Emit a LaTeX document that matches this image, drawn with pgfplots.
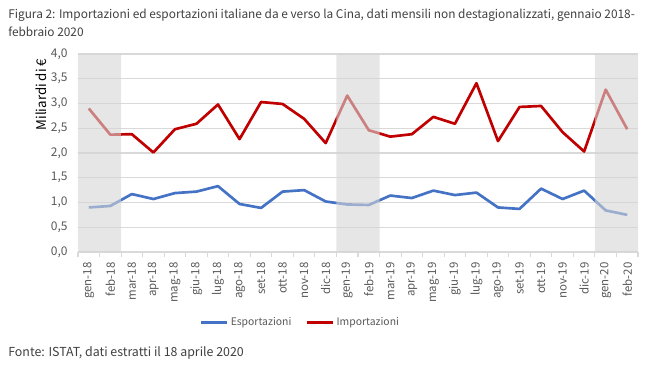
\documentclass[border=0pt]{standalone}
\usepackage{fontspec}
\setmainfont{Noto Sans CJK JP}
\usepackage{pgfplots}
\pgfplotsset{compat=1.18}
\definecolor{expblue}{HTML}{4472C4}
\definecolor{impred}{HTML}{C00000}
\definecolor{txtgrey}{HTML}{595959}
\definecolor{titgrey}{HTML}{404040}
\definecolor{gridgrey}{HTML}{D9D9D9}
\definecolor{bandgrey}{HTML}{D5D5D5}
\begin{document}
\begin{tikzpicture}
\path[use as bounding box] (0,0) rectangle (487.5pt,279.75pt);
\node[anchor=base west, font=\fontsize{8.9}{12}\selectfont, text=titgrey, inner sep=0pt] at (6pt,266pt) {Figura 2: Importazioni ed esportazioni italiane da e verso la Cina, dati mensili non destagionalizzati, gennaio 2018-};
\node[anchor=base west, font=\fontsize{8.9}{12}\selectfont, text=titgrey, inner sep=0pt] at (6pt,252.5pt) {febbraio 2020};
\node[anchor=base west, font=\fontsize{9.3}{12}\selectfont, text=titgrey, inner sep=0pt] at (6pt,12pt) {Fonte: ISTAT, dati estratti il 18 aprile 2020};
\begin{axis}[
  at={(58.5pt,90.75pt)}, anchor=south west,
  scale only axis, width=420pt, height=148.5pt,
  xmin=-0.5, xmax=25.5, ymin=0, ymax=4,
  axis lines*=left,
  y axis line style={draw=none},
  x axis line style={draw=gridgrey, line width=0.8pt},
  ytick={0,0.5,...,4},
  ymajorgrids, grid style={gridgrey, line width=0.8pt},
  major y tick style={draw=none},
  xtick={0,...,25},
  major x tick style={draw=none},
  minor xtick={-0.5,0.5,...,25.5},
  minor x tick style={draw=gridgrey, line width=0.8pt},
  minor tick length=4pt,
  tick align=outside,
  xticklabels={gen-18,feb-18,mar-18,apr-18,mag-18,giu-18,lug-18,ago-18,set-18,ott-18,nov-18,dic-18,gen-19,feb-19,mar-19,apr-19,mag-19,giu-19,lug-19,ago-19,set-19,ott-19,nov-19,dic-19,gen-20,feb-20},
  xticklabel style={rotate=90, anchor=east, font=\fontsize{8.6}{10}\selectfont, text=txtgrey},
  yticklabel style={font=\fontsize{9}{10}\selectfont, text=txtgrey},
  /pgf/number format/assume math mode=true,
  yticklabel={\pgfmathprintnumber[fixed, fixed zerofill, precision=1, use comma]{\tick}},
  ylabel={Miliardi di €},
  ylabel style={font=\fontsize{8.8}{10}\selectfont, text=txtgrey},
  every axis y label/.style={at={(ticklabel cs:1)}, rotate=90, anchor=south east, yshift=-4pt},
  legend style={at={(rel axis cs:0.398,-0.355)}, anchor=center, draw=none, fill=none,
    legend columns=2, font=\fontsize{7.8}{10}\selectfont, text=txtgrey,
    /tikz/every even column/.append style={column sep=9pt},
    /tikz/every odd column/.append style={inner xsep=1pt}},
  legend cell align=left,
  legend image code/.code={\draw[#1, line width=2pt] (0pt,0pt) -- (19pt,0pt);},
  clip=false,
]
\addplot[expblue, line width=2pt, line join=round] coordinates {
(0,0.90) (1,0.93) (2,1.17) (3,1.07) (4,1.19) (5,1.22) (6,1.33) (7,0.97) (8,0.89) (9,1.22) (10,1.25) (11,1.02)
(12,0.96) (13,0.95) (14,1.14) (15,1.09) (16,1.24) (17,1.15) (18,1.20) (19,0.90) (20,0.87) (21,1.28) (22,1.07) (23,1.24)
(24,0.84) (25,0.75)};
\addlegendentry{Esportazioni}
\addplot[impred, line width=2pt, line join=round] coordinates {
(0,2.90) (1,2.37) (2,2.38) (3,2.01) (4,2.48) (5,2.59) (6,2.98) (7,2.28) (8,3.03) (9,2.99) (10,2.69) (11,2.20)
(12,3.16) (13,2.46) (14,2.33) (15,2.38) (16,2.73) (17,2.59) (18,3.41) (19,2.24) (20,2.93) (21,2.95) (22,2.42) (23,2.03)
(24,3.28) (25,2.48)};
\addlegendentry{Importazioni}
\addplot[ybar, bar width=2, bar shift=0pt, draw=none, fill=bandgrey, fill opacity=0.6, forget plot]
  coordinates {(0.5,4) (12.5,4) (24.5,4)};
\end{axis}
\end{tikzpicture}
\end{document}
